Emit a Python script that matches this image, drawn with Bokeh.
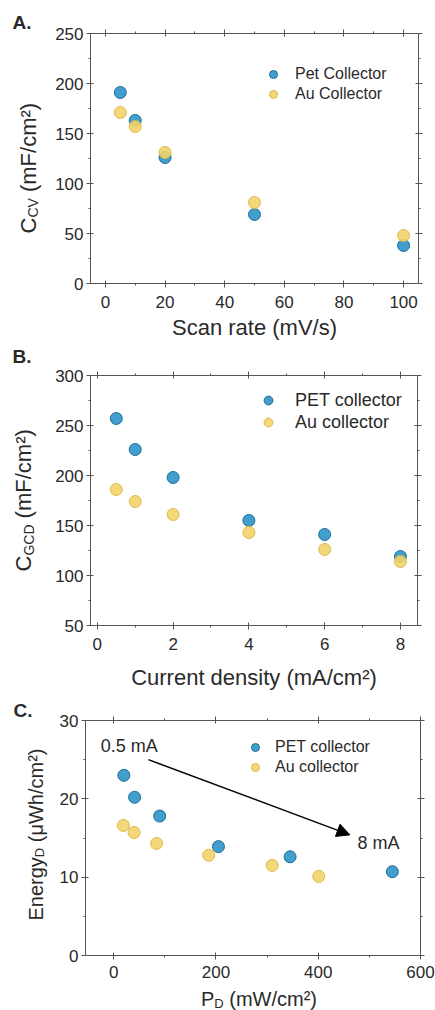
from math import pi
from bokeh.plotting import figure
from bokeh.models import (Range1d, FixedTicker, LinearAxis, Label, Arrow,
                          NormalHead, CustomJSTickFormatter)
from bokeh.layouts import column, row
from bokeh.core.properties import value
from bokeh.embed import file_html
from bokeh.resources import INLINE

# ---------------- data ----------------
# Panel A
scan_rate = [5, 10, 20, 50, 100]
pet_ccv = [191, 163, 126, 69, 38]
au_ccv = [171, 157, 131, 81, 48]
a_xticks = [0, 20, 40, 60, 80, 100]
a_xminor = [10, 30, 50, 70, 90]
a_yticks = [0, 50, 100, 150, 200, 250]
a_yminor = [25, 75, 125, 175, 225]

# Panel B
current_density = [0.5, 1, 2, 4, 6, 8]
pet_cgcd = [257, 226, 198, 155, 141, 119]
au_cgcd = [186, 174, 161, 143, 126, 114]
b_xticks = [0, 2, 4, 6, 8]
b_xminor = [1, 3, 5, 7]
b_yticks = [50, 100, 150, 200, 250, 300]
b_yminor = [75, 125, 175, 225, 275]

# Panel C
pet_power = [20, 41, 90, 205, 345, 545]
pet_energy = [23.0, 20.2, 17.8, 13.9, 12.6, 10.7]
au_power = [19, 40, 84, 186, 310, 401]
au_energy = [16.6, 15.7, 14.3, 12.8, 11.5, 10.1]
c_xticks = [0, 200, 400, 600]
c_xminor = [100, 300, 500]
c_yticks = [0, 10, 20, 30]
c_yminor = [5, 15, 25]

# annotation in panel C (data coords)
ann_start = (-25, 26.7)
ann_end = (477, 14.3)
arrow_from = (68, 25.0)
arrow_to = (462, 15.4)

# ---------------- style ----------------
FONT = "Liberation Sans"
TXT = "#2a2a2a"
AX = "#555555"
BLUE_FILL, BLUE_LINE = "#2d95c8", "#1d6e96"
YEL_FILL, YEL_LINE = "#f2d36a", "#dfba48"

WIDTHS = {"C": 722, "V": 667, "G": 778, "D": 722, "E": 667, "P": 667, "W": 944,
          "n": 556, "e": 556, "r": 333, "g": 556, "y": 500, " ": 278, "(": 333,
          ")": 333, "m": 833, "F": 611, "/": 278, "c": 500, "h": 556, "μ": 576,
          "²": 333}


def tw(s, size):
    return sum(WIDTHS.get(ch, 556) for ch in s) / 1000.0 * size


def strip(w, h):
    s = figure(width=w, height=h, x_range=Range1d(0, w), y_range=Range1d(0, h),
               output_backend="svg", toolbar_location=None, min_border=0,
               x_axis_location=None, y_axis_location=None)
    s.outline_line_color = None
    s.grid.visible = False
    s.background_fill_color = "white"
    s.border_fill_color = "white"
    return s


def put(s, text, x, y, size, angle=0.0, bold=False):
    s.text(x=[x], y=[y], text=[text], angle=angle, text_align="left",
           text_baseline="middle", text_font=value(FONT),
           text_font_size=value(f"{size}px"),
           text_font_style=value("bold" if bold else "normal"), text_color=TXT)


def vlabel(s, segs, x_mid, y_start):
    y = y_start
    for text, size, dx in segs:
        t = text.lstrip(" ")
        y += tw(" " * (len(text) - len(t)), size)
        put(s, t, x_mid + dx, y, size, angle=pi / 2)
        y += tw(t, size)


def hlabel(s, segs, x_start, y_mid):
    x = x_start
    for text, size, dy in segs:
        t = text.lstrip(" ")
        x += tw(" " * (len(text) - len(t)), size)
        put(s, t, x, y_mid + dy, size)
        x += tw(t, size)


def make_fig(w, h, left, right, top, bottom, xr, yr, xt, xm, yt, ym, xstd):
    p = figure(width=w, height=h, x_range=Range1d(*xr), y_range=Range1d(*yr),
               output_backend="svg", toolbar_location=None,
               min_border_left=left, min_border_right=right,
               min_border_top=top, min_border_bottom=bottom)
    p.xgrid.visible = False
    p.ygrid.visible = False
    p.outline_line_color = AX
    p.background_fill_color = "white"
    p.border_fill_color = "white"
    xa, ya = p.xaxis[0], p.yaxis[0]
    xa.ticker = FixedTicker(ticks=xt, minor_ticks=xm)
    ya.ticker = FixedTicker(ticks=yt, minor_ticks=ym)
    for ax in (xa, ya):
        ax.axis_line_color = AX
        ax.major_tick_line_color = AX
        ax.minor_tick_line_color = AX
        ax.major_tick_in = 3
        ax.major_tick_out = 4
        ax.minor_tick_in = 0
        ax.minor_tick_out = 2
        ax.major_label_text_font = FONT
        ax.major_label_text_font_size = "17px"
        ax.major_label_text_color = TXT
        ax.axis_label_text_font = FONT
        ax.axis_label_text_font_size = "22px"
        ax.axis_label_text_font_style = "normal"
        ax.axis_label_text_color = TXT
    xa.major_label_standoff = xstd
    ya.major_label_standoff = 3
    blank = CustomJSTickFormatter(code="return ''")
    top_ax = LinearAxis(ticker=FixedTicker(ticks=xt, minor_ticks=xm), formatter=blank)
    right_ax = LinearAxis(ticker=FixedTicker(ticks=yt, minor_ticks=ym), formatter=blank)
    for ax in (top_ax, right_ax):
        ax.axis_line_color = AX
        ax.major_tick_line_color = AX
        ax.minor_tick_line_color = AX
        ax.major_tick_in = 3
        ax.major_tick_out = 4
        ax.minor_tick_in = 0
        ax.minor_tick_out = 2
        ax.major_label_text_font_size = "0px"
        ax.major_label_standoff = 0
    p.add_layout(top_ax, "above")
    p.add_layout(right_ax, "right")
    return p, xa, ya


def style_legend(p, x, y, size, h, standoff):
    lg = p.legend[0]
    lg.location = (x, y)
    lg.border_line_color = None
    lg.background_fill_alpha = 0
    lg.label_text_font = FONT
    lg.label_text_font_size = f"{size}px"
    lg.label_text_color = TXT
    lg.glyph_width = h
    lg.glyph_height = h
    lg.label_height = h
    lg.spacing = 0
    lg.padding = 0
    lg.margin = 0
    lg.label_standoff = standoff


def pts(p, x, y, fill, line, name):
    p.scatter(x=x, y=y, marker="circle", size=12, fill_color=fill, line_color=line,
              line_width=1, fill_alpha=0.9, legend_label=name)


SW = 48          # width of the left label strip
MW = 435 - SW    # width of the main plots

# ---------------- Panel A ----------------
pa, pa_x, pa_y = make_fig(MW, 345, 42, 17, 33, 62, (-5, 105), (0, 250),
                          a_xticks, a_xminor, a_yticks, a_yminor, 8)
pa_x.axis_label = "Scan rate (mV/s)"
pa_x.axis_label_standoff = 4
pts(pa, scan_rate, pet_ccv, BLUE_FILL, BLUE_LINE, "Pet Collector")
pts(pa, scan_rate, au_ccv, YEL_FILL, YEL_LINE, "Au Collector")
style_legend(pa, 173, 179, 16, 20, 12)
sa = strip(SW, 345)
vlabel(sa, [("C", 22, 0), ("CV", 14, 5), (" (mF/cm²)", 22, 0)], 27.5, 112)
put(sa, "A.", 12, 323.5, 19, bold=True)

# ---------------- Panel B ----------------
pb, pb_x, pb_y = make_fig(MW, 347, 42, 18, 30, 67, (-0.18, 8.45), (50, 300),
                          b_xticks, b_xminor, b_yticks, b_yminor, 8)
pb_x.axis_label = "Current density (mA/cm²)"
pb_x.axis_label_standoff = 12
pts(pb, current_density, pet_cgcd, BLUE_FILL, BLUE_LINE, "PET collector")
pts(pb, current_density, au_cgcd, YEL_FILL, YEL_LINE, "Au collector")
style_legend(pb, 167, 192, 18, 22, 16)
sb = strip(SW, 347)
vlabel(sb, [("C", 22, 0), ("GCD", 14, 5), (" (mF/cm²)", 22, 0)], 23, 121)
put(sb, "B.", 12, 336, 19, bold=True)

# ---------------- Panel C ----------------
pc, pc_x, pc_y = make_fig(MW, 293, 37, 15, 28, 30, (-55, 600), (0, 30),
                          c_xticks, c_xminor, c_yticks, c_yminor, 6)
pts(pc, pet_power, pet_energy, BLUE_FILL, BLUE_LINE, "PET collector")
pts(pc, au_power, au_energy, YEL_FILL, YEL_LINE, "Au collector")
style_legend(pc, 160, 178, 16, 20, 10)
pc.add_layout(Arrow(end=NormalHead(size=13, fill_color="black", line_color="black"),
                    x_start=arrow_from[0], y_start=arrow_from[1],
                    x_end=arrow_to[0], y_end=arrow_to[1],
                    line_color="black", line_width=1.5))
for (ax_, ay_), txt in ((ann_start, "0.5 mA"), (ann_end, "8 mA")):
    pc.add_layout(Label(x=ax_, y=ay_, text=txt, text_font=FONT, text_font_size="18px",
                        text_baseline="middle", text_align="left", text_color=TXT))
sc = strip(SW, 293)
vlabel(sc, [("Energy", 20, 0), ("D", 13, 4.0), (" (μWh/cm²)", 20, 0)], 35, 65)
put(sc, "C.", 13, 275, 19, bold=True)

scx = strip(435, 25)
xl_segs = [("P", 20, 0), ("D", 13, -4.3), (" (mW/cm²)", 20, 0)]
xl_total = sum(tw(t, s) for t, s, _ in xl_segs)
hlabel(scx, xl_segs, 258.5 - xl_total / 2, 11.5)

layout = column(row(sa, column(pa)), row(sb, column(pb)), row(sc, column(pc)), scx)
open("out.html", "w").write(file_html(layout, INLINE))
